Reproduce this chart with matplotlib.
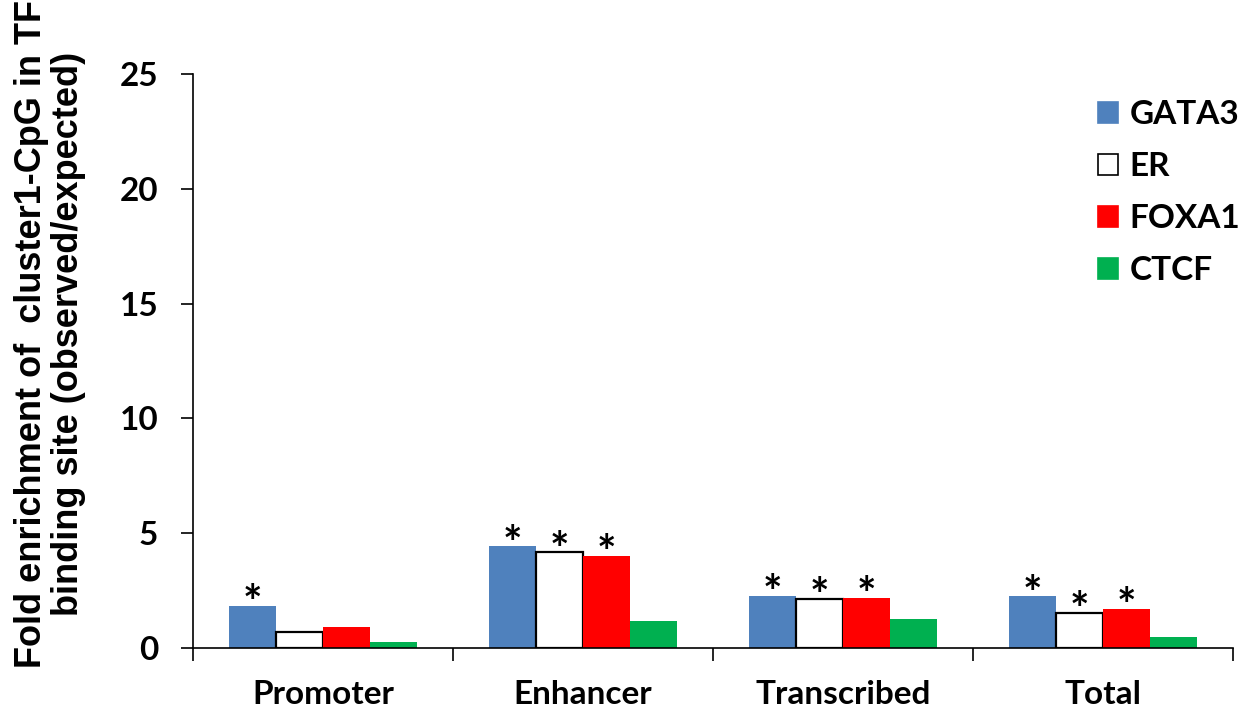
import matplotlib
matplotlib.use("Agg")
import matplotlib.pyplot as plt
from matplotlib.patches import Patch
import numpy as np

categories = ["Promoter", "Enhancer", "Transcribed", "Total"]
series_names = ["GATA3", "ER", "FOXA1", "CTCF"]
gata3 = [1.84, 4.44, 2.27, 2.25]
er = [0.70, 4.17, 2.14, 1.53]
foxa1 = [0.92, 4.01, 2.19, 1.72]
ctcf = [0.25, 1.18, 1.25, 0.50]
# significance markers per series (True -> asterisk above bar)
sig_gata3 = [True, True, True, True]
sig_er = [False, True, True, True]
sig_foxa1 = [False, True, True, True]
sig_ctcf = [False, False, False, False]
y_ticks = [0, 5, 10, 15, 20, 25]

values = [gata3, er, foxa1, ctcf]
sigs = [sig_gata3, sig_er, sig_foxa1, sig_ctcf]
faces = ["#4F81BD", "white", "#FF0000", "#00B050"]
edges = ["none", "black", "none", "none"]

tick_font = "Lato"
label_font = "Liberation Sans"
tick_size = 24

fig = plt.figure(figsize=(12.45, 7.12), dpi=100)
ax = fig.add_axes([193 / 1245, 64 / 712, 1040 / 1245, 574 / 712])

x = np.arange(len(categories))
w = 0.181
for i, (vals, fc, ec, sg) in enumerate(zip(values, faces, edges, sigs)):
    pos = x + (i - 1.5) * w
    ax.bar(pos, vals, width=w, color=fc, edgecolor=ec,
           linewidth=1.6 if ec != "none" else 0, zorder=2)
    for px, v, s in zip(pos, vals, sg):
        if s:
            ax.annotate("*", (px, v), xytext=(0, -9), textcoords="offset points",
                        ha="center", va="baseline", fontsize=33, fontweight="bold",
                        family=tick_font, color="black")

ax.set_xlim(-0.5, len(categories) - 0.5)
ax.set_ylim(0, 25)
ax.set_yticks(y_ticks)
ax.set_yticklabels([str(t) for t in y_ticks], fontsize=tick_size, fontweight="bold",
                   family=tick_font)
ax.set_xticks(x)
ax.set_xticklabels(categories, fontsize=tick_size, fontweight="bold", family=tick_font)
ax.set_xticks(np.arange(-0.5, len(categories), 1.0), minor=True)
ax.tick_params(axis="x", which="major", length=0, pad=23)
ax.tick_params(axis="x", which="minor", length=9, width=1.2, direction="out")
ax.tick_params(axis="y", length=9, width=1.2, direction="out", pad=16)

for side in ["top", "right"]:
    ax.spines[side].set_visible(False)
for side in ["left", "bottom"]:
    ax.spines[side].set_linewidth(1.2)

fig.text(50 / 1245, 1 - 334 / 712,
         "Fold enrichment of  cluster1-CpG in TF\nbinding site (observed/expected)",
         rotation=90, ha="center", va="center", fontsize=26, fontweight="bold",
         family=label_font, linespacing=1.08)

handles = [Patch(facecolor=fc, edgecolor=("black" if ec != "none" else fc),
                 linewidth=1.2) for fc, ec in zip(faces, edges)]
fig.legend(handles, series_names, loc="upper left",
           bbox_to_anchor=(1098 / 1245, 1 - 100 / 712), frameon=False,
           prop={"family": tick_font, "weight": "bold", "size": tick_size},
           handlelength=0.6, handleheight=0.6, handletextpad=0.35,
           labelspacing=0.69, borderaxespad=0, borderpad=0)

fig.savefig("out.png", dpi=100)
